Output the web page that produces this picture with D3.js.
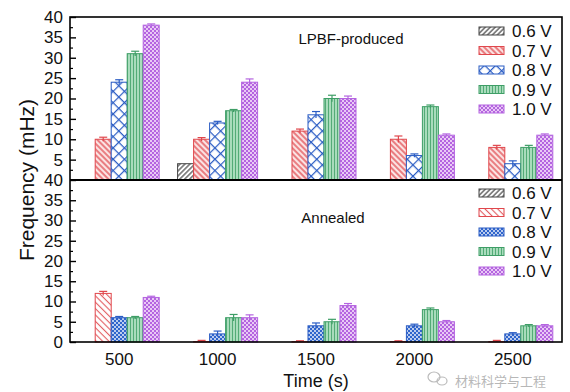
<!DOCTYPE html>
<html>
<head>
<meta charset="utf-8">
<script src="https://cdn.jsdelivr.net/npm/d3@7"></script>
<style>
  body { margin: 0; background: #fff; }
  svg text { font-family: "Liberation Sans", Arial, sans-serif; }
</style>
</head>
<body>
<svg id="chart"></svg>
<script>
// data
const times = [500, 1000, 1500, 2000, 2500];
const voltages = ['0.6 V', '0.7 V', '0.8 V', '0.9 V', '1.0 V'];

// LPBF-produced, one array per voltage (mHz)
const lpbf06 = [0, 4, 0, 0, 0];
const lpbf07 = [10, 10, 12, 10, 8];
const lpbf08 = [24, 14, 16, 6, 4];
const lpbf09 = [31, 17, 20, 18, 8];
const lpbf10 = [38, 24, 20, 11, 11];
const lpbfErr07 = [0.5, 0.4, 0.5, 0.8, 0.5];
const lpbfErr08 = [0.6, 0.4, 0.8, 0.4, 0.7];
const lpbfErr09 = [0.6, 0.3, 0.8, 0.4, 0.5];
const lpbfErr10 = [0.3, 0.8, 0.6, 0.3, 0.3];

// Annealed
const ann06 = [0, 0, 0, 0, 0];
const ann07 = [12, 0.1, 0.1, 0.1, 0.1];
const ann08 = [6, 2, 4, 4, 2];
const ann09 = [6, 6, 5, 8, 4];
const ann10 = [11, 6, 9, 5, 4];
const annErr07 = [0.5, 0.3, 0.2, 0.2, 0.3];
const annErr08 = [0.3, 0.7, 0.7, 0.4, 0.3];
const annErr09 = [0.3, 0.8, 0.6, 0.4, 0.3];
const annErr10 = [0.3, 0.7, 0.5, 0.3, 0.3];

const yTicks = [0, 5, 10, 15, 20, 25, 30, 35, 40];

// set up constants
const width = 570;
const height = 392;
const left = 70, right = 562;
const topY = 17, midY = 180, bottomY = 342;

const svg = d3.select('#chart')
  .attr('width', width)
  .attr('height', height);

// patterns
const defs = svg.append('defs');

function hatch(id, bg, color, size, angle, sw) {
  const p = defs.append('pattern')
    .attr('id', id)
    .attr('patternUnits', 'userSpaceOnUse')
    .attr('width', size).attr('height', size)
    .attr('patternTransform', `rotate(${angle})`);
  p.append('rect').attr('width', size).attr('height', size).attr('fill', bg);
  p.append('line')
    .attr('x1', size / 2).attr('y1', 0).attr('x2', size / 2).attr('y2', size)
    .attr('stroke', color).attr('stroke-width', sw);
}

hatch('p06', '#fff', '#555', 3.5, 45, 1.3);
hatch('p07', '#fbe3e3', '#e0474c', 4, -45, 1.3);
hatch('p07b', '#fff', '#e25a5e', 4.5, -45, 1.1);
hatch('p09', '#a9dcbc', '#3e9e66', 3, 0, 0.8);

// crosshatch lattice for 0.8 V (top)
const p08 = defs.append('pattern')
  .attr('id', 'p08')
  .attr('patternUnits', 'userSpaceOnUse')
  .attr('width', 8).attr('height', 8)
  .attr('patternTransform', 'rotate(45)');
p08.append('rect').attr('width', 8).attr('height', 8).attr('fill', '#fff');
p08.append('path').attr('d', 'M0,0.5H8M0.5,0V8')
  .attr('stroke', '#2a5cc4').attr('stroke-width', 1.4);

// dotted blue for 0.8 V (bottom)
const p08b = defs.append('pattern')
  .attr('id', 'p08b')
  .attr('patternUnits', 'userSpaceOnUse')
  .attr('width', 4).attr('height', 4);
p08b.append('rect').attr('width', 4).attr('height', 4).attr('fill', '#2f64cc');
p08b.append('circle').attr('cx', 1).attr('cy', 1).attr('r', 0.9).attr('fill', '#fff');
p08b.append('circle').attr('cx', 3).attr('cy', 3).attr('r', 0.9).attr('fill', '#fff');

// checker for 1.0 V
const p10 = defs.append('pattern')
  .attr('id', 'p10')
  .attr('patternUnits', 'userSpaceOnUse')
  .attr('width', 4).attr('height', 4);
p10.append('rect').attr('width', 4).attr('height', 4).attr('fill', '#e9c9f5');
p10.append('rect').attr('width', 2).attr('height', 2).attr('fill', '#b464e0');
p10.append('rect').attr('x', 2).attr('y', 2).attr('width', 2).attr('height', 2).attr('fill', '#b464e0');

const strokes = ['#444', '#e0474c', '#2a5cc4', '#3e9e66', '#b464e0'];
const fillsTop = ['url(#p06)', 'url(#p07)', 'url(#p08)', 'url(#p09)', 'url(#p10)'];
const fillsBot = ['url(#p06)', 'url(#p07b)', 'url(#p08b)', 'url(#p09)', 'url(#p10)'];

// scales
const xScale = d3.scaleLinear().domain([250, 2750]).range([left, right]);
const inner = d3.scaleBand().domain(voltages).range([-40, 40]);
const yTop = d3.scaleLinear().domain([0, 40]).range([midY, topY]);
const yBot = d3.scaleLinear().domain([0, 40]).range([bottomY, midY]);

function drawPanel(series, errs, yScale, fills) {
  const g = svg.append('g');
  voltages.forEach((v, i) => {
    const rows = times.map((t, j) => ({ t, val: series[i][j], err: errs[i] ? errs[i][j] : 0 }));
    g.selectAll(null)
      .data(rows.filter(d => d.val > 0))
      .enter()
      .append('rect')
      .attr('x', d => xScale(d.t) + inner(v))
      .attr('y', d => yScale(d.val))
      .attr('width', inner.bandwidth())
      .attr('height', d => yScale(0) - yScale(d.val))
      .attr('fill', fills[i])
      .attr('stroke', strokes[i])
      .attr('stroke-width', 1);

    const eb = g.selectAll(null)
      .data(rows.filter(d => d.err > 0))
      .enter()
      .append('g')
      .attr('stroke', strokes[i])
      .attr('stroke-width', 1.2);
    const cx = d => xScale(d.t) + inner(v) + inner.bandwidth() / 2;
    eb.append('line')
      .attr('x1', cx).attr('x2', cx)
      .attr('y1', d => yScale(Math.max(d.val - d.err, 0)))
      .attr('y2', d => yScale(d.val + d.err));
    eb.append('line')
      .attr('x1', d => cx(d) - 4).attr('x2', d => cx(d) + 4)
      .attr('y1', d => yScale(d.val + d.err)).attr('y2', d => yScale(d.val + d.err));
  });
}

drawPanel([lpbf06, lpbf07, lpbf08, lpbf09, lpbf10],
  [null, lpbfErr07, lpbfErr08, lpbfErr09, lpbfErr10], yTop, fillsTop);
drawPanel([ann06, ann07, ann08, ann09, ann10],
  [null, annErr07, annErr08, annErr09, annErr10], yBot, fillsBot);

// y axes
function yAxisFor(yScale, values) {
  const g = svg.append('g').attr('transform', `translate(${left},0)`);
  g.call(d3.axisLeft(yScale).tickValues(values).tickSizeInner(-6).tickSizeOuter(0).tickPadding(7));
  g.select('.domain').remove();
  g.selectAll('.tick line').attr('stroke-width', 1.4);
  g.selectAll('text').attr('font-size', 17).attr('fill', '#111');
  const minor = svg.append('g').attr('transform', `translate(${left},0)`);
  minor.call(d3.axisLeft(yScale).tickValues(yTicks.slice(0, -1).map(d => d + 2.5)).tickSizeInner(-3).tickSizeOuter(0).tickFormat(''));
  minor.select('.domain').remove();
  minor.selectAll('.tick line').attr('stroke-width', 1.2);
}
yAxisFor(yTop, yTicks.slice(1));
yAxisFor(yBot, yTicks);

// frames
const frame = svg.append('g').attr('fill', 'none').attr('stroke', '#000');
frame.append('rect')
  .attr('x', left).attr('y', topY)
  .attr('width', right - left).attr('height', bottomY - topY)
  .attr('stroke-width', 1.6);
frame.append('line')
  .attr('x1', left).attr('x2', right)
  .attr('y1', midY).attr('y2', midY)
  .attr('stroke-width', 1.8);

// x tick labels
svg.append('g')
  .selectAll('text')
  .data(times)
  .enter()
  .append('text')
  .attr('x', d => xScale(d))
  .attr('y', 365)
  .attr('text-anchor', 'middle')
  .attr('font-size', 17)
  .attr('fill', '#111')
  .text(d => d);

// axis titles
svg.append('text')
  .attr('x', (left + right) / 2)
  .attr('y', 387)
  .attr('text-anchor', 'middle')
  .attr('font-size', 18)
  .attr('fill', '#111')
  .text('Time (s)');

svg.append('text')
  .attr('transform', `translate(34,${midY}) rotate(-90)`)
  .attr('text-anchor', 'middle')
  .attr('font-size', 21)
  .attr('fill', '#111')
  .text('Frequency (mHz)');

// panel labels
svg.append('text').attr('x', 351).attr('y', 44)
  .attr('text-anchor', 'middle').attr('font-size', 15).attr('fill', '#111')
  .text('LPBF-produced');
svg.append('text').attr('x', 333).attr('y', 223)
  .attr('text-anchor', 'middle').attr('font-size', 15).attr('fill', '#111')
  .text('Annealed');

// legends
function legend(y0, fills) {
  const g = svg.append('g');
  const rows = g.selectAll('g')
    .data(voltages)
    .enter()
    .append('g')
    .attr('transform', (d, i) => `translate(479,${y0 + i * 19.5})`);
  rows.append('rect')
    .attr('x', 0).attr('y', -4)
    .attr('width', 25).attr('height', 8)
    .attr('fill', (d, i) => fills[i])
    .attr('stroke', (d, i) => strokes[i])
    .attr('stroke-width', 1);
  rows.append('text')
    .attr('x', 33).attr('y', 6)
    .attr('font-size', 17)
    .attr('fill', '#111')
    .text(d => d);
}
legend(31, fillsTop);
legend(193, fillsBot);

// watermark
const wm = svg.append('g').attr('fill', 'none').attr('stroke', '#bbb').attr('stroke-width', 1.2);
wm.append('ellipse').attr('cx', 434).attr('cy', 377).attr('rx', 6).attr('ry', 5);
wm.append('ellipse').attr('cx', 442).attr('cy', 381).attr('rx', 5).attr('ry', 4);
svg.append('text')
  .attr('x', 455).attr('y', 386)
  .attr('font-size', 13)
  .attr('fill', '#aaa')
  .attr('fill-opacity', 0.85)
  .style('font-family', '"Noto Sans CJK SC", sans-serif')
  .text('材料科学与工程');
</script>
</body>
</html>
